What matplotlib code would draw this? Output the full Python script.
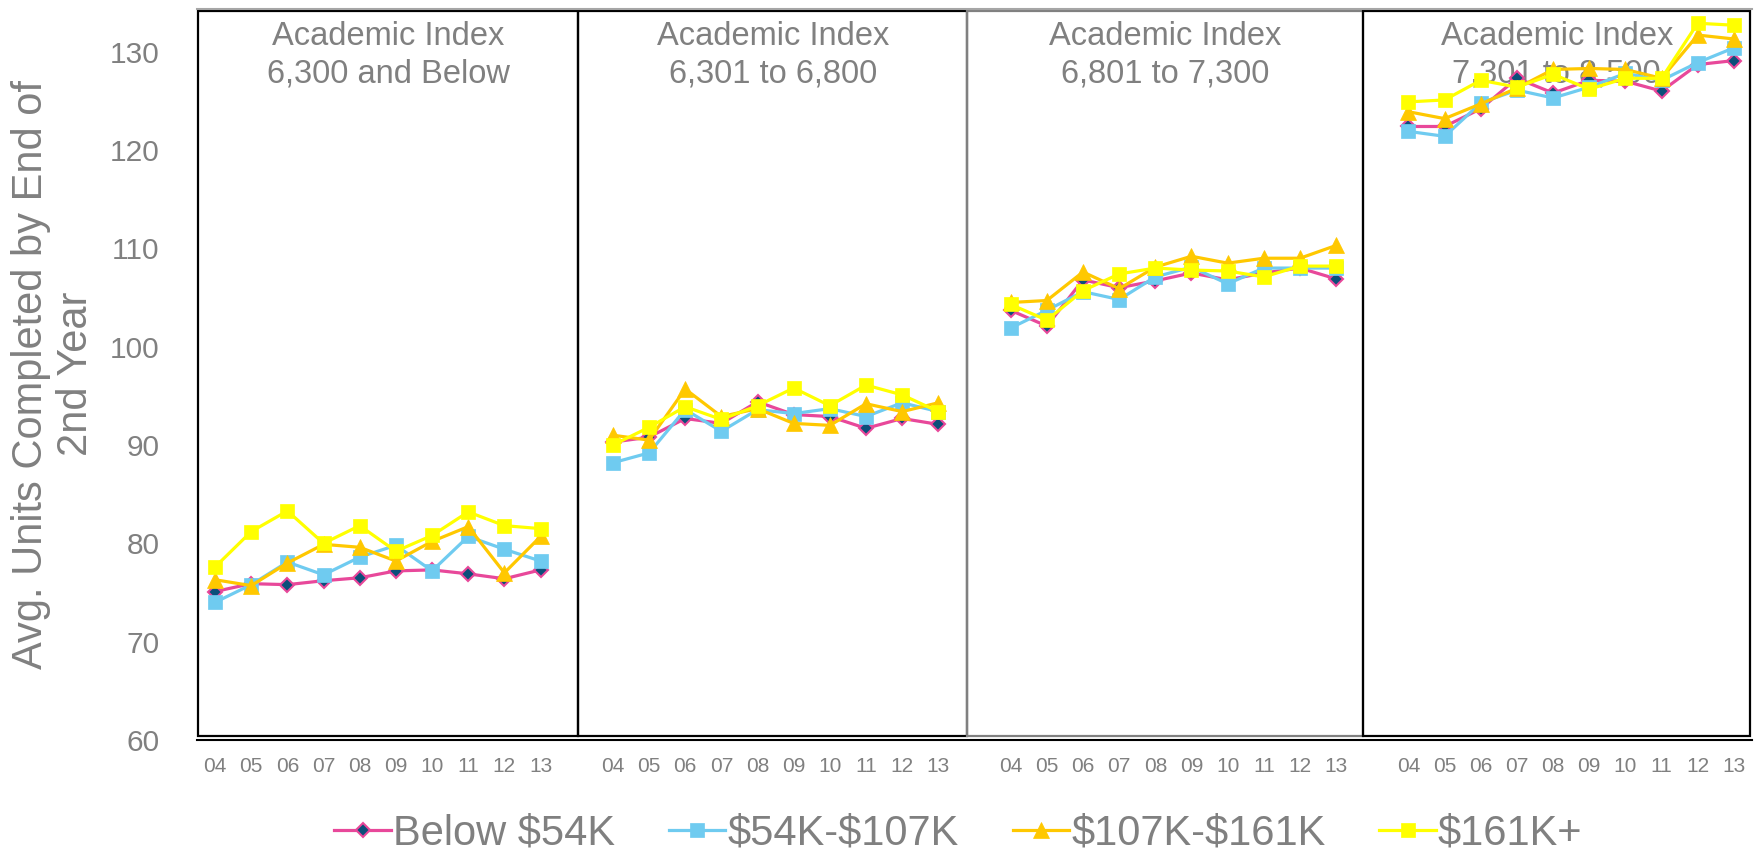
import matplotlib
matplotlib.use("Agg")
import matplotlib.pyplot as plt
import matplotlib.transforms as mtransforms
from matplotlib.patches import Rectangle

plt.rcParams['font.family'] = ['Liberation Sans', 'DejaVu Sans']
plt.rcParams['text.parse_math'] = False

years = ["04", "05", "06", "07", "08", "09", "10", "11", "12", "13"]
panel_titles = ["Academic Index\n6,300 and Below", "Academic Index\n6,301 to 6,800",
                "Academic Index\n6,801 to 7,300", "Academic Index\n7,301 to 8,500"]
series_names = ["Below $54K", "$54K-$107K", "$107K-$161K", "$161K+"]

# values per panel (rows: panels), one list per income series
below_54k = [
    [75.1, 75.9, 75.8, 76.2, 76.5, 77.2, 77.3, 76.9, 76.4, 77.3],
    [90.3, 90.8, 92.7, 92.2, 94.4, 93.1, 92.9, 91.7, 92.7, 92.1],
    [103.7, 102.1, 106.8, 106.0, 106.7, 107.5, 106.8, 107.5, 108.0, 106.9],
    [122.4, 122.4, 124.2, 127.3, 125.8, 127.1, 127.0, 126.0, 128.7, 129.1],
]
k54_107 = [
    [74.0, 75.8, 78.1, 76.8, 78.6, 79.8, 77.2, 80.7, 79.4, 78.2],
    [88.2, 89.2, 93.6, 91.4, 93.6, 93.2, 93.7, 92.9, 94.3, 93.4],
    [101.9, 103.7, 105.6, 104.8, 107.1, 108.1, 106.4, 108.0, 108.0, 108.0],
    [121.9, 121.4, 124.8, 126.1, 125.3, 126.4, 127.8, 127.1, 128.9, 130.4],
]
k107_161 = [
    [76.3, 75.7, 78.0, 79.9, 79.6, 78.2, 80.2, 81.7, 77.0, 80.7],
    [91.0, 90.5, 95.7, 92.9, 93.7, 92.2, 92.0, 94.2, 93.4, 94.3],
    [104.5, 104.7, 107.6, 105.9, 108.1, 109.2, 108.5, 109.0, 109.0, 110.3],
    [123.9, 123.2, 124.7, 126.3, 128.2, 128.3, 128.2, 127.3, 131.7, 131.3],
]
k161_plus = [
    [77.6, 81.2, 83.3, 80.0, 81.8, 79.2, 80.8, 83.2, 81.8, 81.5],
    [90.0, 91.8, 93.9, 92.6, 94.0, 95.8, 94.0, 96.1, 95.1, 93.4],
    [104.3, 102.7, 105.7, 107.4, 108.0, 107.8, 107.7, 107.1, 108.2, 108.2],
    [124.9, 125.1, 127.1, 126.4, 127.7, 126.2, 127.3, 127.3, 132.9, 132.7],
]

all_series = [below_54k, k54_107, k107_161, k161_plus]
styles = [
    dict(color="#E8489A", marker="D", markersize=7, markerfacecolor="#0B4F7A",
         markeredgecolor="#E8489A", markeredgewidth=1.5),
    dict(color="#6FCBF0", marker="s", markersize=10, markerfacecolor="#6FCBF0",
         markeredgecolor="#6FCBF0", markeredgewidth=0.5),
    dict(color="#FFC800", marker="^", markersize=11, markerfacecolor="#FFC800",
         markeredgecolor="#FFC800", markeredgewidth=0.5),
    dict(color="#FFFF00", marker="s", markersize=10, markerfacecolor="#FFFF00",
         markeredgecolor="#FFFF00", markeredgewidth=0.5),
]

gray = "#808080"
fig = plt.figure(figsize=(17.65, 8.52), dpi=100)
ax = fig.add_axes([197 / 1765, 1 - 740 / 852, (1752 - 197) / 1765, (740 - 8.5) / 852])

n = len(years)
offsets = [p * (n + 1) for p in range(4)]
for s_idx, series in enumerate(all_series):
    for p_idx, vals in enumerate(series):
        xs = [offsets[p_idx] + i for i in range(n)]
        ax.plot(xs, vals, linewidth=2.3, zorder=3 + s_idx,
                label=series_names[s_idx] if p_idx == 0 else None, **styles[s_idx])

ax.set_xlim(-0.5, 4 * (n + 1) - 1.5)
ax.set_ylim(60, 134.4)
ax.set_yticks(range(60, 131, 10))
ticks = [offsets[p] + i for p in range(4) for i in range(n)]
ax.set_xticks(ticks)
ax.set_xticklabels(years * 4)
ax.tick_params(axis='x', length=0, pad=12, labelsize=15, labelcolor=gray)
ax.tick_params(axis='y', length=0, pad=27, labelsize=21.5, labelcolor=gray)

for side in ["left", "right"]:
    ax.spines[side].set_visible(False)
ax.spines["top"].set_color("#a6a6a6")
ax.spines["top"].set_linewidth(1.5)
ax.spines["bottom"].set_color("black")
ax.spines["bottom"].set_linewidth(1.5)

trans = mtransforms.blended_transform_factory(ax.transData, ax.transAxes)
bounds = [(-0.48, 10.04), (10.04, 20.8), (20.8, 31.75), (31.75, 42.45)]
edge_cols = ["black", "black", gray, "black"]
for (x0, x1), ec, title in zip(bounds, edge_cols, panel_titles):
    ax.add_patch(Rectangle((x0, 0.006), x1 - x0, 0.99, transform=trans, fill=False,
                           edgecolor=ec, linewidth=1.6, zorder=2, clip_on=False))
    ax.text((x0 + x1) / 2, 0.983, title, transform=trans, ha="center", va="top",
            fontsize=23.5, color=gray, linespacing=1.28, zorder=1)

ax.set_ylabel("Avg. Units Completed by End of\n2nd Year", fontsize=30, color=gray,
              linespacing=1.15, labelpad=10)

leg = fig.legend(loc="center", bbox_to_anchor=(0.543, 0.022), ncol=4, frameon=False,
                 fontsize=30, handlelength=1.35, handletextpad=0.05, columnspacing=1.3,
                 borderaxespad=0)
for t in leg.get_texts():
    t.set_color(gray)

fig.savefig("out.png", dpi=100)
